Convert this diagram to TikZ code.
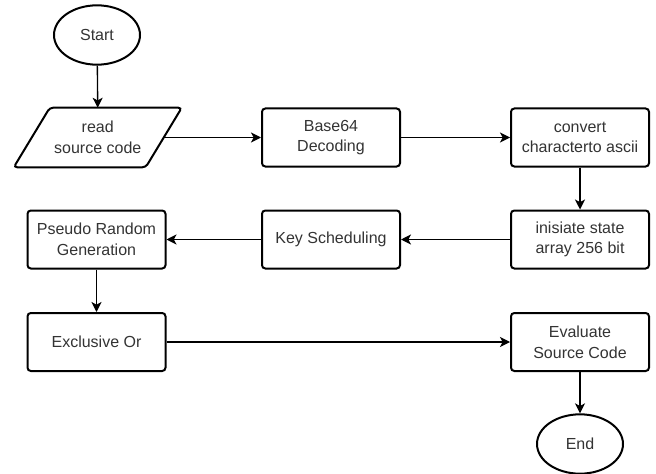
\documentclass[tikz,border=0pt]{standalone}
\usepackage{fontspec}
\setmainfont{Liberation Sans}
\usetikzlibrary{shapes.geometric,arrows.meta}
\definecolor{txt}{HTML}{333333}
\begin{document}
\begin{tikzpicture}[x=0.75pt,y=-0.75pt,
  lbl/.style={align=center, inner sep=0pt, text=txt, font=\fontsize{12}{15.5}\selectfont},
  box/.style={lbl, draw, line width=1.5pt, rounded corners=2.5pt, minimum width=103.5pt, minimum height=43.5pt},
  term/.style={lbl, draw, ellipse, line width=1.5pt, minimum width=64.5pt, minimum height=44.5pt},
  conn/.style={-{Stealth[length=7.5pt,width=7.5pt,inset=2pt]}, line width=1pt}]
\useasboundingbox (0,0) rectangle (656,474);
\node[term] (start) at (97,35) {Start};
\node[lbl, minimum width=98.6pt, minimum height=44.25pt] (read) at (97.75,137.5) {read\\source code};
\draw[line width=1.5pt, rounded corners=2.5pt]
  ([xshift=13.5pt]read.north west) -- ([xshift=13.5pt]read.north east)
  -- ([xshift=-13.5pt]read.south east) -- ([xshift=-13.5pt]read.south west) -- cycle;
\node[box] (base) at (331,137.5) {Base64\\Decoding};
\node[box] (conv) at (580,137.5) {convert\\characterto ascii};
\node[box] (init) at (580,239.5) {inisiate state\\array 256 bit};
\node[box] (key) at (331,239.5) {Key Scheduling};
\node[box] (prng) at (96.5,239.5) {Pseudo Random\\Generation};
\node[box] (xor) at (96.5,342) {Exclusive Or};
\node[box] (eval) at (580,342) {Evaluate\\Source Code};
\node[term] (end) at (580,444) {End};
\draw[conn] (start) -- (read.north);
\draw[conn] (read.east) -- (base);
\draw[conn] (base) -- (conv);
\draw[conn] (conv) -- (init);
\draw[conn] (init) -- (key);
\draw[conn] (key) -- (prng);
\draw[conn] (prng) -- (xor);
\draw[conn] (xor) -- (eval);
\draw[conn] (eval) -- (end);
\end{tikzpicture}
\end{document}
